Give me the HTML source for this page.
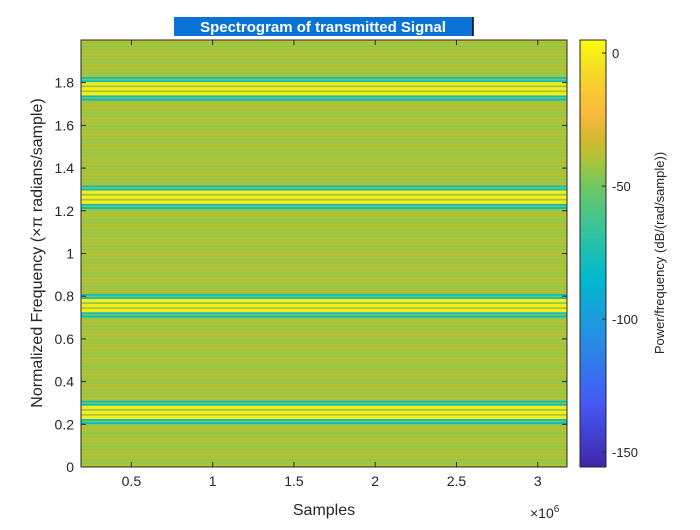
<!DOCTYPE html>
<html><head><meta charset="utf-8"><style>
body{margin:0;background:#fff;}
svg text{font-family:"Liberation Sans",sans-serif;}
</style></head><body>
<svg id="c" width="700" height="525" xmlns="http://www.w3.org/2000/svg">
<rect width="700" height="525" fill="#fff"/>
<g id="heat"></g>
<g id="cbar"></g>
<g id="axes"></g>
<rect x="174" y="17" width="299" height="19" fill="#0a74d6"/>
<text x="323" y="32" text-anchor="middle" font-size="15" font-weight="bold" fill="#fff">Spectrogram of transmitted Signal</text>
<line x1="473" y1="17" x2="473" y2="36" stroke="#000" stroke-width="1.5"/>
<text x="324" y="515" text-anchor="middle" font-size="16" fill="#262626">Samples</text>
<text x="530" y="518" font-size="14" fill="#262626">×10<tspan dy="-6" font-size="10">6</tspan></text>
<text transform="translate(42,253) rotate(-90)" text-anchor="middle" font-size="16" fill="#262626">Normalized Frequency (×π radians/sample)</text>
<text transform="translate(664,253) rotate(-90)" text-anchor="middle" font-size="13" fill="#262626">Power/frequency (dB/(rad/sample))</text>
</svg>
<script>
const xTicks=[0.5,1,1.5,2,2.5,3];
const xTickLabels=["0.5","1","1.5","2","2.5","3"];
const yTicks=[0,0.2,0.4,0.6,0.8,1,1.2,1.4,1.6,1.8];
const yTickLabels=["0","0.2","0.4","0.6","0.8","1","1.2","1.4","1.6","1.8"];
const cTicks=[0,-50,-100,-150];
const cTickLabels=["0","-50","-100","-150"];
const xDomain=[0.19,3.18];
const yDomain=[0,2];
const cDomain=[-155.6,4.9];
const nBins=256;
const bgCycle=[-41,-38,-43,-40,-45,-39,-42,-37];
const bandCenters=[0.25,0.75,1.255,1.765];
const bandProfile=[-80,-50,-80,0,0,-45,0,0,-40,0,0,-80,-50,-84,-45,-40];

const L=81,R=567,T=40,B=467;
const sx=v=>L+(v-xDomain[0])/(xDomain[1]-xDomain[0])*(R-L);
const sy=v=>B-(v-yDomain[0])/(yDomain[1]-yDomain[0])*(B-T);
const stops=[[0,[62,38,168]],[0.15,[70,90,245]],[0.3,[40,140,230]],[0.445,[0,185,205]],[0.55,[50,195,160]],[0.656,[110,200,100]],[0.72,[170,196,55]],[0.766,[210,185,45]],[0.83,[252,185,60]],[0.92,[245,215,40]],[1,[249,251,14]]];
function cmap(db){let f=(db-cDomain[0])/(cDomain[1]-cDomain[0]);f=Math.max(0,Math.min(1,f));
for(let i=1;i<stops.length;i++){if(f<=stops[i][0]){const a=stops[i-1],b=stops[i];const t=(f-a[0])/(b[0]-a[0]);
return 'rgb('+a[1].map((c,k)=>Math.round(c+(b[1][k]-c)*t)).join(',')+')';}}return 'rgb(249,251,14)';}
const NS='http://www.w3.org/2000/svg';
function mk(tag,attrs,parent){const e=document.createElementNS(NS,tag);for(const k in attrs)e.setAttribute(k,attrs[k]);parent.appendChild(e);return e;}
const binW=(yDomain[1]-yDomain[0])/nBins;
const vals=[];
for(let i=0;i<nBins;i++)vals.push(bgCycle[i%bgCycle.length]);
bandCenters.forEach(c=>{const top=c+bandProfile.length*binW/2;
bandProfile.forEach((v,j)=>{const f=top-(j+0.5)*binW;const idx=Math.floor(f/binW);if(idx>=0&&idx<nBins)vals[idx]=v;});});
const heat=document.getElementById('heat');
vals.forEach((v,i)=>{const y0=sy(i*binW),y1=sy((i+1)*binW);
const r=mk('rect',{x:L,y:y1,width:R-L,height:(y0-y1)+0.4,fill:cmap(v)},heat);

});
const cb=document.getElementById('cbar');const CL=580,CR=606;
const cy=v=>B-(v-cDomain[0])/(cDomain[1]-cDomain[0])*(B-T);
for(let i=0;i<200;i++){const v0=cDomain[0]+(cDomain[1]-cDomain[0])*i/200,v1=cDomain[0]+(cDomain[1]-cDomain[0])*(i+1)/200;
mk('rect',{x:CL,y:cy(v1),width:CR-CL,height:cy(v0)-cy(v1)+0.5,fill:cmap((v0+v1)/2)},cb);}
mk('rect',{x:CL,y:T,width:CR-CL,height:B-T,fill:'none',stroke:'#262626','stroke-width':1},cb);
cTicks.forEach((t,i)=>{const y=cy(t);mk('line',{x1:CR,x2:CR-4,y1:y,y2:y,stroke:'#262626'},cb);
const tx=mk('text',{x:612,y:y+5,'font-size':13,fill:'#262626'},cb);tx.textContent=cTickLabels[i];

});
const ax=document.getElementById('axes');
mk('rect',{x:L,y:T,width:R-L,height:B-T,fill:'none',stroke:'#262626','stroke-width':1},ax);
xTicks.forEach((t,i)=>{const x=sx(t);mk('line',{x1:x,x2:x,y1:B,y2:B-5,stroke:'#262626'},ax);mk('line',{x1:x,x2:x,y1:T,y2:T+5,stroke:'#262626'},ax);
const tx=mk('text',{x:x,y:B+19,'text-anchor':'middle','font-size':14,fill:'#262626'},ax);tx.textContent=xTickLabels[i];

});
yTicks.forEach((t,i)=>{const y=sy(t);mk('line',{x1:L,x2:L+5,y1:y,y2:y,stroke:'#262626'},ax);mk('line',{x1:R,x2:R-5,y1:y,y2:y,stroke:'#262626'},ax);
const tx=mk('text',{x:L-7,y:y+5,'text-anchor':'end','font-size':14,fill:'#262626'},ax);tx.textContent=yTickLabels[i];

});
</script>
</body></html>
